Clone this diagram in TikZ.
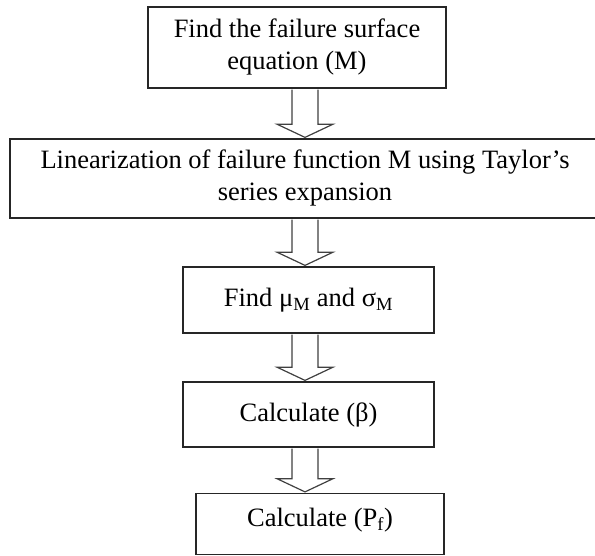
\documentclass[tikz,border=0pt]{standalone}
\usepackage{fontspec}
\setmainfont{Liberation Serif}
\usetikzlibrary{arrows,calc}
\tikzset{
    %Define style for boxes
    steprect/.style={
           rectangle,
           draw=black!85, line width=1.6pt,
           inner sep=0pt,
           font=\fontsize{26.5}{32}\selectfont,
           align=center},
    % Define hollow arrow style
    pilblock/.style={
           draw=black!75,
           line width=1.2pt,
           fill=white}
}
% hollow block arrow from one box down to the next
\newcommand{\blockpil}[2]{%
  \draw[pilblock] let \p1=(#1.south), \p2=(#2.north), \p3=(spine) in
    (\x3-13pt,\y1-0.8pt) -- (\x3-13pt,\y2+14pt) -- (\x3-28pt,\y2+14pt)
    -- (\x3,\y2+0.8pt) -- (\x3+28pt,\y2+14pt) -- (\x3+13pt,\y2+14pt)
    -- (\x3+13pt,\y1-0.8pt);}

\begin{document}
\begin{tikzpicture}[x=1pt,y=1pt]
\clip (0,0) rectangle (595,556);

 %nodes
\node[steprect, minimum width=298pt, minimum height=81pt] (1) at (297,508.5)
    {Find the failure surface\\equation (M)};
\node[steprect, minimum width=590pt, minimum height=79pt] (2) at (305,377.5)
    {Linearization of failure function M using Taylor’s\\series expansion};
\node[steprect, minimum width=251pt, minimum height=66pt] (3) at (308.5,256)
    {Find μ\textsubscript{M} and σ\textsubscript{M}};
\node[steprect, minimum width=251pt, minimum height=65pt] (4) at (308.5,141.5)
    {Calculate (β)};
\node[steprect, minimum width=248pt, minimum height=61pt, text depth=14pt] (5) at (320,32)
    {Calculate (P\textsubscript{f})};

 %arrows
\coordinate (spine) at (305,0);
\blockpil{1}{2}
\blockpil{2}{3}
\blockpil{3}{4}
\blockpil{4}{5}
\end{tikzpicture}
\end{document}
